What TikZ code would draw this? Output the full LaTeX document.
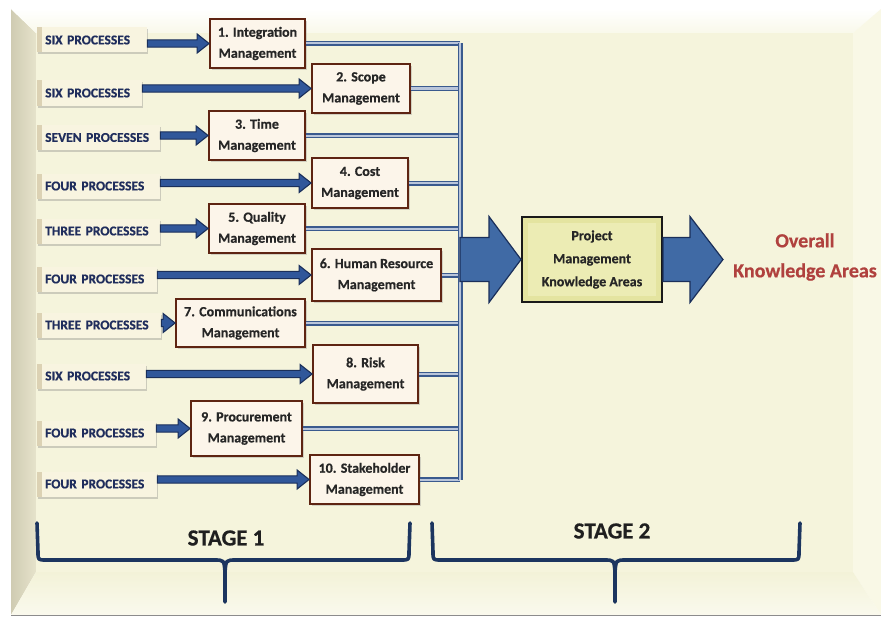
\documentclass[tikz,border=0pt]{standalone}
\usepackage{fontspec}
\setmainfont{Carlito}[BoldFeatures={FakeBold=0.6}]
\usetikzlibrary{calc,shadows}

\definecolor{face}{HTML}{F5F4DC}
\definecolor{bevelL}{HTML}{CFCBB2}
\definecolor{bevelLin}{HTML}{E6E3CB}
\definecolor{bevelR}{HTML}{F9F8E6}
\definecolor{bevelB}{HTML}{F3F2D8}
\definecolor{labelfill}{HTML}{F8F4E0}
\definecolor{labelbevel}{HTML}{DCD2B4}
\definecolor{navytext}{HTML}{1F2D5C}
\definecolor{mgmtfill}{HTML}{FCF5EA}
\definecolor{mgmtborder}{HTML}{5E2412}
\definecolor{mgmttext}{HTML}{262626}
\definecolor{arrowfill}{HTML}{30579A}
\definecolor{arrowdraw}{HTML}{1A2F5A}
\definecolor{bigfill}{HTML}{406AA5}
\definecolor{busblue}{HTML}{3A5A8E}
\definecolor{buscore}{HTML}{B9C5DA}
\definecolor{pmfill}{HTML}{E4E4A0}
\definecolor{pminner}{HTML}{ECECB4}
\definecolor{bracecol}{HTML}{1C355F}
\definecolor{overall}{HTML}{B0413E}

% horizontal block arrow: style, start, end, shaft half-height, head half-height, head length
\newcommand\fatarrow[6]{%
  \filldraw[#1] let \p1=#2, \p2=#3 in
    (\x1,{\y1+#4}) -- ({\x2-#6},{\y1+#4}) -- ({\x2-#6},{\y1+#5}) -- (\x2,\y1)
    -- ({\x2-#6},{\y1-#5}) -- ({\x2-#6},{\y1-#4}) -- (\x1,{\y1-#4}) -- cycle;}

\begin{document}
\begin{tikzpicture}[x=1pt,y=-1pt,
  procbox/.style={anchor=west, fill=labelfill, minimum height=25pt,
    inner xsep=8pt, inner ysep=0pt, text=navytext, align=left,
    font=\fontsize{13.5}{15}\selectfont\bfseries,
    drop shadow={shadow xshift=1pt, shadow yshift=-2pt, opacity=0.35},
    path picture={\fill[labelbevel] (path picture bounding box.north west)
      rectangle ([xshift=5pt]path picture bounding box.south west);}},
  mgmt/.style={draw=mgmtborder, line width=1.8pt, fill=mgmtfill,
    text=mgmttext, align=center, inner sep=0pt,
    font=\fontsize{14}{21}\selectfont\bfseries,
    drop shadow={shadow xshift=1.5pt, shadow yshift=-2pt, opacity=0.3}},
  smallarrow/.style={fill=arrowfill, draw=arrowdraw, line width=1.1pt, line join=miter},
  bigarrow/.style={fill=bigfill, draw=arrowdraw, line width=1.2pt, line join=miter},
  bus/.style={draw=busblue, line width=1.5pt, double=buscore, double distance=2pt},
  bracket/.style={draw=bracecol, line width=3.6pt, line cap=round, line join=round},
  stage/.style={font=\fontsize{23}{26}\selectfont\bfseries, text=black!88},
]
\useasboundingbox (0,0) rectangle (881,618);

% beveled backdrop
\fill[white] (0,0) rectangle (881,618);
\shade[left color=bevelL, right color=bevelLin] (11,9) -- (36,33) -- (36,572) -- (11,615) -- cycle;
\shade[top color=white, bottom color=face!60!white] (11,9) -- (881,9) -- (853,33) -- (36,33) -- cycle;
\fill[bevelR] (881,9) -- (881,615) -- (853,572) -- (853,33) -- cycle;
\shade[top color=bevelB, bottom color=face!50!white] (11,615) -- (881,615) -- (853,572) -- (36,572) -- cycle;
\fill[face] (36,33) rectangle (853,572);
\draw[black!45, line width=1.2pt] (11,615.5) -- (881,615.5);

% process counts
\node[procbox, text width=94pt] (l1)  at (37,40)    {SIX PROCESSES};
\node[procbox, text width=89pt] (l2)  at (37,93)    {SIX PROCESSES};
\node[procbox, text width=107pt] (l3) at (37,137.5) {SEVEN PROCESSES};
\node[procbox, text width=107pt] (l4) at (37,186)   {FOUR PROCESSES};
\node[procbox, text width=107pt] (l5) at (37,231)   {THREE PROCESSES};
\node[procbox, text width=104pt] (l6) at (37,279)   {FOUR PROCESSES};
\node[procbox, text width=108pt] (l7) at (37,325)   {THREE PROCESSES};
\node[procbox, text width=93pt] (l8)  at (37,376)   {SIX PROCESSES};
\node[procbox, text width=103pt] (l9) at (37,433)   {FOUR PROCESSES};
\node[procbox, text width=104pt] (l10) at (37,484)  {FOUR PROCESSES};

% knowledge areas
\node[mgmt, minimum width=95pt,  minimum height=49pt] (m1)  at (257.5,43.5) {1. Integration\\Management};
\node[mgmt, minimum width=98pt,  minimum height=49pt] (m2)  at (361,88.5)   {2. Scope\\Management};
\node[mgmt, minimum width=96pt,  minimum height=49pt] (m3)  at (257,135.5)  {3. Time\\Management};
\node[mgmt, minimum width=96pt,  minimum height=50pt] (m4)  at (360,183)    {4. Cost\\Management};
\node[mgmt, minimum width=96pt,  minimum height=49pt] (m5)  at (257,228.5)  {5. Quality\\Management};
\node[mgmt, minimum width=129pt, minimum height=52pt] (m6)  at (376.5,275)  {6. Human Resource\\Management};
\node[mgmt, minimum width=129pt, minimum height=48pt] (m7)  at (240.5,323)  {7. Communications\\Management};
\node[mgmt, minimum width=105pt, minimum height=58pt] (m8)  at (365.5,374)  {8. Risk\\Management};
\node[mgmt, minimum width=111pt, minimum height=55pt] (m9)  at (246.5,428.5) {9. Procurement\\Management};
\node[mgmt, minimum width=109pt, minimum height=49pt] (m10) at (364.5,479.5) {10. Stakeholder\\Management};

% feeding arrows
\foreach \i in {1,...,10}{
  \fatarrow{smallarrow}{(l\i.east |- m\i.west)}{(m\i.west)}{3.6pt}{9.5pt}{12pt}
}

% collecting bus
\coordinate (busx) at (460,0);
\foreach \i in {1,...,10}{
  \draw[bus] (m\i.east) -- (m\i.east -| busx);
}
\draw[bus] (m1.east -| busx) -- (m10.east -| busx);

% summary box and block arrows
\node[draw=black!90, line width=2pt, fill=pmfill, minimum width=140pt, minimum height=85pt,
  align=center, inner sep=0pt, font=\fontsize{14}{23}\selectfont\bfseries, text=black!85,
  path picture={\fill[pminner] ([shift={(6pt,6pt)}]path picture bounding box.south west)
    rectangle ([shift={(-6pt,-6pt)}]path picture bounding box.north east);}]
  (pm) at (592,259.5) {Project\\Management\\Knowledge Areas};

\node[align=center, text=overall, font=\fontsize{20}{30}\selectfont\bfseries] (ov) at (805,257)
  {Overall\\Knowledge Areas};
\coordinate (tip2) at (723,259.5);

\fatarrow{bigarrow}{(pm.west -| busx)}{(pm.west)}{22pt}{43pt}{32pt}
\fatarrow{bigarrow}{(pm.east)}{(tip2)}{22pt}{43pt}{33pt}

% stage brackets
\draw[bracket] (37,523) -- (38,552) .. controls (38,560) .. (46,560) -- (214,560)
  .. controls (224,560) .. (225,572) -- (225,602);
\draw[bracket] (410,523) -- (409,552) .. controls (409,560) .. (401,560) -- (236,560)
  .. controls (226,560) .. (225,572);
\draw[bracket] (432,523) -- (433,552) .. controls (433,560) .. (441,560) -- (604,560)
  .. controls (614,560) .. (615,572) -- (615,602);
\draw[bracket] (800,523) -- (799,552) .. controls (799,560) .. (791,560) -- (626,560)
  .. controls (616,560) .. (615,572);

\node[stage] (s1) at (226,538) {STAGE 1};
\node[stage] (s2) at (612,531) {STAGE 2};
\end{tikzpicture}
\end{document}
